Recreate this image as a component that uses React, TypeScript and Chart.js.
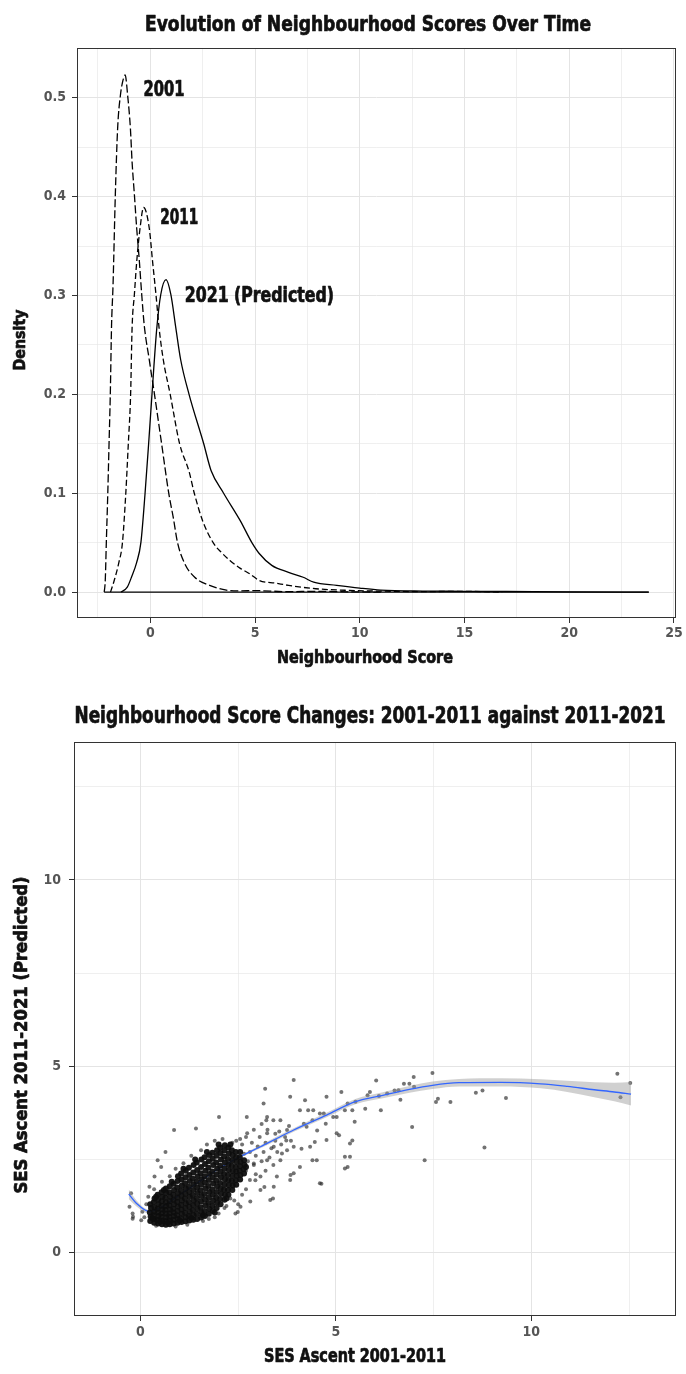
import React, { useEffect, useRef } from "react";
import { Chart, registerables } from "chart.js";

Chart.register(...registerables);

const FONT = "'Liberation Sans Narrow', 'DejaVu Sans Condensed', 'Arial Narrow', sans-serif";

// ---------------- Chart 1: density of neighbourhood scores ----------------
const score2001 = [-2.2, -2.15, -2.1, -2.03, -1.97, -1.91, -1.85, -1.78, -1.67, -1.56, -1.43, -1.3, -1.2, -1.08, -0.95, -0.87, -0.76, -0.65, -0.52, -0.41, -0.29, -0.05, 0.2, 0.54, 0.88, 1.1, 1.3, 1.64, 2.12, 2.83, 3.63, 4.3, 5.0, 6.5, 8.0, 9.5, 11.0];
const density2001 = [0, 0.012, 0.05, 0.1, 0.15, 0.2, 0.27, 0.31, 0.402, 0.469, 0.502, 0.518, 0.523, 0.502, 0.469, 0.435, 0.402, 0.368, 0.334, 0.301, 0.27, 0.235, 0.2, 0.15, 0.1, 0.075, 0.05, 0.029, 0.015, 0.0068, 0.002, 0.0012, 0.0015, 0.0005, 0.0008, 0.0003, 0];

const score2011 = [-1.9, -1.72, -1.5, -1.33, -1.17, -1.05, -0.94, -0.87, -0.76, -0.65, -0.49, -0.32, -0.05, 0.11, 0.27, 0.42, 0.62, 0.95, 1.4, 1.85, 2.1, 2.5, 3.0, 3.4, 3.8, 4.3, 4.75, 5.2, 6.0, 6.6, 7.9, 9.5, 11, 13, 15, 16.8];
const density2011 = [0, 0.012, 0.03, 0.05, 0.1, 0.15, 0.2, 0.267, 0.301, 0.334, 0.368, 0.389, 0.368, 0.334, 0.301, 0.267, 0.235, 0.2, 0.15, 0.122, 0.1, 0.072, 0.05, 0.04, 0.032, 0.024, 0.0185, 0.0118, 0.009, 0.0068, 0.0034, 0.0017, 0.001, 0.0005, 0.0008, 0];

const score2021 = [-1.4, -1.1, -0.9, -0.65, -0.45, -0.25, -0.08, 0.08, 0.31, 0.5, 0.75, 0.98, 1.22, 1.45, 1.85, 2.55, 2.9, 3.5, 4.3, 4.85, 5.2, 5.8, 6.6, 7.3, 7.8, 8.9, 10, 11, 13, 15, 17, 20, 23.8];
const density2021 = [0, 0.005, 0.015, 0.03, 0.05, 0.1, 0.15, 0.2, 0.267, 0.301, 0.316, 0.301, 0.267, 0.235, 0.2, 0.15, 0.123, 0.1, 0.072, 0.05, 0.039, 0.027, 0.02, 0.015, 0.01, 0.0068, 0.004, 0.002, 0.001, 0.0008, 0.0006, 0.0002, 0];

const baselineScore = [-2.2, 23.8];
const baselineDensity = [0, 0];

const curveLabels = ["2001", "2011", "2021 (Predicted)"];
const curveLabelScore = [-0.32, 0.48, 1.65];
const curveLabelDensity = [0.507, 0.378, 0.299];

const densityMajorX = [0, 5, 10, 15, 20, 25];
const densityMinorX = [-2.5, 2.5, 7.5, 12.5, 17.5, 22.5];
const densityMajorY = [0, 0.1, 0.2, 0.3, 0.4, 0.5];
const densityMinorY = [0.05, 0.15, 0.25, 0.35, 0.45];

// ---------------- Chart 2: score changes scatter ----------------
const cloudPoints: [number, number][] = [
  [0.25, 0.85], [0.26, 0.97], [0.24, 1.08], [0.27, 1.2], [0.25, 1.3],
  [0.35, 0.8], [0.36, 0.9], [0.34, 1.0], [0.35, 1.1], [0.36, 1.22], [0.34, 1.35], [0.36, 1.45],
  [0.45, 0.78], [0.44, 0.88], [0.46, 0.98], [0.45, 1.08], [0.44, 1.18], [0.46, 1.3], [0.45, 1.42], [0.44, 1.55],
  [0.55, 0.76], [0.56, 0.86], [0.54, 0.96], [0.55, 1.06], [0.56, 1.16], [0.54, 1.26], [0.55, 1.38], [0.56, 1.5], [0.54, 1.62],
  [0.65, 0.75], [0.64, 0.85], [0.66, 0.95], [0.65, 1.05], [0.64, 1.15], [0.66, 1.25], [0.65, 1.35], [0.64, 1.47], [0.66, 1.6], [0.65, 1.72],
  [0.75, 0.76], [0.76, 0.86], [0.74, 0.96], [0.75, 1.06], [0.76, 1.16], [0.74, 1.27], [0.75, 1.38], [0.76, 1.5], [0.74, 1.62], [0.75, 1.78],
  [0.85, 0.78], [0.84, 0.88], [0.86, 0.98], [0.85, 1.08], [0.84, 1.18], [0.86, 1.3], [0.85, 1.42], [0.84, 1.55], [0.86, 1.68], [0.85, 1.85],
  [0.95, 0.8], [0.96, 0.9], [0.94, 1.0], [0.95, 1.12], [0.96, 1.24], [0.94, 1.36], [0.95, 1.48], [0.96, 1.6], [0.94, 1.75], [0.95, 1.92], [0.96, 2.05],
  [1.05, 0.82], [1.04, 0.92], [1.06, 1.04], [1.05, 1.16], [1.04, 1.28], [1.06, 1.4], [1.05, 1.53], [1.04, 1.66], [1.06, 1.8], [1.05, 1.96], [1.04, 2.12],
  [1.15, 0.84], [1.16, 0.95], [1.14, 1.07], [1.15, 1.2], [1.16, 1.32], [1.14, 1.45], [1.15, 1.58], [1.16, 1.72], [1.14, 1.86], [1.15, 2.02], [1.16, 2.2],
  [1.25, 0.86], [1.24, 0.98], [1.26, 1.1], [1.25, 1.23], [1.24, 1.36], [1.26, 1.5], [1.25, 1.63], [1.24, 1.77], [1.26, 1.92], [1.25, 2.08], [1.24, 2.28],
  [1.35, 0.88], [1.36, 1.0], [1.34, 1.14], [1.35, 1.27], [1.36, 1.4], [1.34, 1.54], [1.35, 1.68], [1.36, 1.83], [1.34, 1.98], [1.35, 2.15], [1.36, 2.35],
  [1.45, 0.9], [1.44, 1.04], [1.46, 1.18], [1.45, 1.32], [1.44, 1.46], [1.46, 1.6], [1.45, 1.75], [1.44, 1.9], [1.46, 2.05], [1.45, 2.22], [1.44, 2.42],
  [1.55, 0.94], [1.56, 1.08], [1.54, 1.22], [1.55, 1.37], [1.56, 1.52], [1.54, 1.67], [1.55, 1.82], [1.56, 1.97], [1.54, 2.13], [1.55, 2.3], [1.56, 2.5],
  [1.65, 0.98], [1.64, 1.12], [1.66, 1.27], [1.65, 1.42], [1.64, 1.57], [1.66, 1.73], [1.65, 1.88], [1.64, 2.04], [1.66, 2.2], [1.65, 2.38], [1.64, 2.56],
  [1.75, 1.04], [1.76, 1.18], [1.74, 1.33], [1.75, 1.48], [1.76, 1.63], [1.74, 1.79], [1.75, 1.95], [1.76, 2.11], [1.74, 2.28], [1.75, 2.45], [1.76, 2.62],
  [1.85, 1.12], [1.84, 1.26], [1.86, 1.4], [1.85, 1.55], [1.84, 1.7], [1.86, 1.86], [1.85, 2.02], [1.84, 2.18], [1.86, 2.35], [1.85, 2.52], [1.84, 2.68],
  [1.95, 1.2], [1.96, 1.34], [1.94, 1.48], [1.95, 1.63], [1.96, 1.78], [1.94, 1.93], [1.95, 2.09], [1.96, 2.25], [1.94, 2.42], [1.95, 2.6], [1.96, 2.75],
  [2.05, 1.3], [2.04, 1.44], [2.06, 1.58], [2.05, 1.72], [2.04, 1.87], [2.06, 2.02], [2.05, 2.17], [2.04, 2.33], [2.06, 2.5], [2.05, 2.67], [2.04, 2.82],
  [2.15, 1.42], [2.16, 1.55], [2.14, 1.69], [2.15, 1.83], [2.16, 1.97], [2.14, 2.11], [2.15, 2.26], [2.16, 2.42], [2.14, 2.58], [2.15, 2.74], [2.16, 2.88],
  [2.25, 1.55], [2.24, 1.68], [2.26, 1.81], [2.25, 1.94], [2.24, 2.08], [2.26, 2.22], [2.25, 2.36], [2.24, 2.51], [2.26, 2.66], [2.25, 2.82],
  [2.35, 1.68], [2.36, 1.8], [2.34, 1.93], [2.35, 2.06], [2.36, 2.19], [2.34, 2.33], [2.35, 2.47], [2.36, 2.61], [2.34, 2.75],
  [2.45, 1.82], [2.44, 1.94], [2.46, 2.06], [2.45, 2.18], [2.44, 2.3], [2.46, 2.43], [2.45, 2.56], [2.44, 2.7],
  [2.55, 1.96], [2.56, 2.08], [2.54, 2.2], [2.55, 2.32], [2.56, 2.44], [2.54, 2.56],
  [2.65, 2.12], [2.64, 2.24], [2.66, 2.36], [2.65, 2.48],
  [0.3, 0.92], [0.5, 0.83], [0.7, 0.8], [1.0, 0.86], [1.3, 0.93], [1.6, 1.0], [0.4, 1.5], [0.6, 1.68], [0.8, 1.9],
  [1.1, 2.25], [1.4, 2.5], [1.7, 2.7], [2.0, 2.9], [2.3, 2.9], [2.55, 2.7], [2.7, 2.3], [1.9, 1.08], [2.2, 1.45],
];

const spreadPoints: [number, number][] = [
  [2.7, 2.2], [2.75, 2.45], [2.8, 2.7], [2.85, 2.95], [2.7, 3.1], [2.9, 2.35], [2.95, 2.6], [3.0, 2.85], [3.05, 3.1],
  [3.1, 2.45], [3.15, 2.7], [3.2, 2.95], [3.25, 3.3], [3.3, 2.55], [3.35, 2.8], [3.45, 3.0], [3.5, 2.7], [3.55, 3.25],
  [3.6, 2.9], [3.7, 3.1], [3.75, 2.75], [3.8, 3.4], [3.85, 3.0], [2.65, 2.65], [2.6, 2.9], [2.55, 3.05], [2.45, 3.0],
  [2.35, 2.95], [2.9, 3.3], [3.1, 3.45], [3.4, 3.55], [2.8, 1.95], [2.95, 2.1], [3.2, 2.2], [3.4, 2.35], [2.7, 1.7],
  [2.6, 1.55], [2.4, 1.4], [2.5, 1.3], [2.2, 1.25], [2.0, 1.05], [1.9, 0.95], [2.3, 1.45], [2.15, 1.2],
  [0.1, 0.95], [0.05, 1.1], [0.15, 1.3], [0.2, 1.5], [0.35, 1.7], [0.55, 1.9], [0.75, 2.05], [0.9, 2.25], [1.1, 2.4],
  [1.3, 2.6], [1.55, 2.75], [1.7, 2.9], [1.9, 3.0], [2.1, 3.05], [1.2, 0.75], [1.6, 0.85], [1.75, 0.9], [0.4, 0.72], [0.9, 0.7],
];

const outlierPoints: [number, number][] = [
  [12.2, 4.8], [12.53, 4.55], [12.28, 4.17], [7.47, 4.82], [6.99, 4.71], [6.88, 4.53], [6.03, 4.62], [6.6, 4.36],
  [6.31, 4.27], [5.87, 4.31], [7.61, 4.13], [7.56, 4.04], [7.93, 4.04], [8.58, 4.29], [8.75, 4.35], [9.35, 4.15],
  [6.95, 3.37], [8.8, 2.82], [7.27, 2.48], [6.74, 4.53], [6.65, 4.1], [3.92, 4.63], [3.19, 4.4], [3.83, 4.18],
  [4.21, 4.09], [4.76, 4.18], [5.14, 4.31], [3.15, 4.0], [2.01, 3.64], [1.42, 3.33], [0.86, 3.29], [0.44, 2.48],
  [0.53, 2.3], [0.36, 2.04], [0.23, 1.77], [-0.24, 1.59], [-0.28, 1.23], [-0.19, 0.96], [-0.2, 1.05], [2.73, 3.2],
  [3.24, 3.64], [3.58, 3.55], [3.24, 3.2], [3.75, 3.29], [4.08, 3.82], [4.25, 3.38], [4.42, 3.82], [4.59, 3.73],
  [4.93, 3.64], [5.23, 3.82], [5.48, 3.51], [5.36, 2.93], [5.23, 2.57], [5.23, 2.26], [4.59, 1.86], [4.51, 2.48],
  [4.08, 2.3], [3.92, 2.13], [3.83, 1.95], [3.49, 2.04], [3.41, 1.77], [3.32, 1.41], [3.07, 1.68], [2.81, 1.37],
  [2.56, 1.23], [2.43, 1.05], [3.07, 2.04], [2.9, 2.39], [3.24, 2.48], [3.58, 2.48], [3.41, 2.84], [3.92, 2.84],
  [4.34, 2.84], [4.76, 3.02], [5.02, 3.2], [5.3, 4.0], [5.42, 3.82], [5.75, 3.86], [5.81, 4.22], [6.15, 3.82],
  [5.02, 3.64], [4.69, 3.73], [4.4, 3.55], [4.18, 3.46], [4.74, 3.46], [4.29, 3.82], [4.52, 3.28], [5.08, 3.15],
  [5.42, 3.01], [4.46, 2.97], [4.12, 2.79], [5.36, 2.57], [5.3, 2.3], [4.63, 1.85], [4.4, 2.48], [3.84, 2.08],
  [3.39, 1.45], [3.17, 1.76], [2.94, 1.94], [2.49, 1.09], [3.62, 2.66], [3.22, 3.55], [3.45, 3.19], [3.73, 3.01],
  [2.72, 3.64], [0.64, 2.7], [0.02, 0.87], [-0.2, 0.91], [5.5, 4.05], [6.1, 4.2], [6.5, 4.35], [7.0, 4.45],
];

const smoothX = [-0.3, -0.1, 0.23, 0.5, 1.0, 1.5, 2.0, 2.5, 3.07, 3.5, 3.92, 4.76, 5.5, 6.2, 6.88, 7.47, 8.15, 9.22, 10.24, 10.92, 11.61, 12.12, 12.55];
const smoothY = [1.57, 1.32, 1.1, 1.2, 1.55, 1.9, 2.25, 2.55, 2.84, 3.07, 3.29, 3.69, 4.05, 4.22, 4.38, 4.49, 4.56, 4.57, 4.53, 4.46, 4.37, 4.31, 4.25];
const smoothLow = [1.44, 1.24, 1.05, 1.17, 1.53, 1.88, 2.23, 2.52, 2.8, 3.02, 3.24, 3.63, 3.98, 4.14, 4.29, 4.39, 4.46, 4.46, 4.41, 4.31, 4.17, 4.06, 3.95];
const smoothHigh = [1.7, 1.4, 1.15, 1.23, 1.57, 1.92, 2.27, 2.58, 2.88, 3.12, 3.34, 3.75, 4.12, 4.3, 4.47, 4.59, 4.66, 4.68, 4.65, 4.61, 4.57, 4.56, 4.58];

const changeMajor = [0, 5, 10];
const changeMinor = [2.5, 7.5, 12.5];

// ---------------- helpers ----------------
const toXY = (xs: number[], ys: number[]) => xs.map((x, i) => ({ x, y: ys[i] }));
const pairsXY = (p: [number, number][]) => p.map(([x, y]) => ({ x, y }));

function axis(
  min: number,
  max: number,
  major: number[],
  minor: number[],
  fmt: (v: number) => string,
  isX: boolean,
  size: number,
  padding: number
) {
  const all = [...major, ...minor].filter((v) => v >= min && v <= max).sort((a, b) => a - b);
  const isMajor = (v: any) => typeof v === "number" && major.some((m) => Math.abs(m - v) < 1e-9);
  return {
    type: "linear",
    min,
    max,
    afterBuildTicks: (scale: any) => {
      scale.ticks = all.map((v) => ({ value: v }));
    },
    afterFit: (scale: any) => {
      if (isX) scale.height = size;
      else scale.width = size;
    },
    ticks: {
      autoSkip: false,
      maxRotation: 0,
      minRotation: 0,
      padding,
      color: "#555555",
      font: { family: FONT, size: 14, weight: "bold" },
      callback: (v: any) => (isMajor(v) ? fmt(v) : ""),
    },
    grid: {
      color: "#e4e4e4",
      lineWidth: (ctx: any) => (isMajor(ctx.tick && ctx.tick.value) ? 1 : 0.6),
      drawTicks: true,
      tickLength: 5,
      tickWidth: 1,
      tickColor: (ctx: any) => (isMajor(ctx.tick && ctx.tick.value) ? "#333333" : "rgba(0,0,0,0)"),
    },
    border: { display: false },
  };
}

// draws heavy text squeezed/stretched along its direction to a target length
function fitText(ctx: CanvasRenderingContext2D, text: string, x: number, y: number, width: number, align: "left" | "center") {
  const w = ctx.measureText(text).width;
  const s = w > 0 ? width / w : 1;
  ctx.save();
  ctx.translate(x, y);
  ctx.scale(s, 1);
  ctx.textAlign = align;
  ctx.lineWidth = 0.7;
  ctx.lineJoin = "round";
  ctx.strokeStyle = ctx.fillStyle as string;
  ctx.fillText(text, 0, 0);
  ctx.strokeText(text, 0, 0);
  ctx.restore();
}

const overlayPlugin = {
  id: "overlay",
  afterDraw(chart: any, _args: any, opts: any) {
    const ctx = chart.ctx;
    const a = chart.chartArea;
    ctx.save();
    ctx.strokeStyle = "#333333";
    ctx.lineWidth = 1;
    ctx.strokeRect(Math.round(a.left) + 0.5, Math.round(a.top) + 0.5, Math.round(a.right - a.left) - 1, Math.round(a.bottom - a.top) - 1);

    ctx.fillStyle = "#111111";
    ctx.textBaseline = "alphabetic";
    ctx.font = `bold ${opts.titleSize}px ${FONT}`;
    fitText(ctx, opts.title, opts.titleX, opts.titleY, opts.titleWidth, "center");

    ctx.font = `bold ${opts.axisSize}px ${FONT}`;
    fitText(ctx, opts.xTitle, opts.xTitleX, opts.xTitleY, opts.xTitleWidth, "center");

    ctx.save();
    ctx.font = `bold ${opts.yAxisSize}px ${FONT}`;
    ctx.translate(opts.yTitleX, opts.yTitleY);
    ctx.rotate(-Math.PI / 2);
    fitText(ctx, opts.yTitle, 0, 0, opts.yTitleWidth, "center");
    ctx.restore();

    if (opts.labels) {
      const xs = chart.scales.x;
      const ys = chart.scales.y;
      ctx.textBaseline = "middle";
      ctx.font = `bold ${opts.labelSize}px ${FONT}`;
      opts.labels.forEach((t: string, i: number) => {
        fitText(ctx, t, xs.getPixelForValue(opts.labelX[i]), ys.getPixelForValue(opts.labelY[i]), opts.labelWidths[i], "left");
      });
    }
    ctx.restore();
  },
};

export default function App() {
  const topRef = useRef<HTMLCanvasElement>(null);
  const botRef = useRef<HTMLCanvasElement>(null);

  useEffect(() => {
    document.body.style.margin = "0";
    const common = {
      animation: false,
      responsive: false,
      devicePixelRatio: 1,
      events: [],
      elements: { point: { radius: 0 }, line: { tension: 0 } },
    };

    const top = new Chart(topRef.current as HTMLCanvasElement, {
      type: "line",
      data: {
        datasets: [
          { data: toXY(baselineScore, baselineDensity), borderColor: "#000", borderWidth: 1.3, pointRadius: 0 },
          { data: toXY(score2001, density2001), borderColor: "#000", borderWidth: 1.3, borderDash: [8, 3], pointRadius: 0, cubicInterpolationMode: "monotone" },
          { data: toXY(score2011, density2011), borderColor: "#000", borderWidth: 1.3, borderDash: [6, 3], pointRadius: 0, cubicInterpolationMode: "monotone" },
          { data: toXY(score2021, density2021), borderColor: "#000", borderWidth: 1.3, pointRadius: 0, cubicInterpolationMode: "monotone" },
        ],
      },
      options: {
        ...common,
        layout: { padding: { top: 48, right: 10, left: 0, bottom: 0 } },
        plugins: {
          legend: { display: false },
          tooltip: { enabled: false },
          overlay: {
            title: "Evolution of Neighbourhood Scores Over Time",
            titleSize: 22,
            titleWidth: 446,
            titleX: 368,
            titleY: 31,
            axisSize: 18,
            xTitle: "Neighbourhood Score",
            xTitleWidth: 176,
            xTitleX: 365,
            xTitleY: 663,
            yAxisSize: 16,
            yTitle: "Density",
            yTitleWidth: 61,
            yTitleX: 25,
            yTitleY: 340,
            labels: curveLabels,
            labelX: curveLabelScore,
            labelY: curveLabelDensity,
            labelWidths: [41, 38, 149],
            labelSize: 21,
          },
        },
        scales: {
          x: axis(-3.5, 25.1, densityMajorX, densityMinorX, (v) => String(v), true, 68, 2),
          y: axis(-0.0262, 0.5503, densityMajorY, densityMinorY, (v) => v.toFixed(1), false, 77, 6),
        },
      } as any,
      plugins: [overlayPlugin],
    } as any);

    const bot = new Chart(botRef.current as HTMLCanvasElement, {
      type: "line",
      data: {
        datasets: [
          { data: pairsXY(cloudPoints), showLine: false, pointRadius: 3, borderWidth: 0, backgroundColor: "rgba(14,14,14,0.95)", order: 0 },
          { data: toXY(smoothX, smoothY), borderColor: "#3366FF", borderWidth: 1.3, pointRadius: 0, order: 1, cubicInterpolationMode: "monotone" },
          { data: toXY(smoothX, smoothHigh), borderWidth: 0, borderColor: "rgba(0,0,0,0)", pointRadius: 0, fill: "+1", backgroundColor: "rgba(150,150,150,0.45)", order: 2, cubicInterpolationMode: "monotone" },
          { data: toXY(smoothX, smoothLow), borderWidth: 0, borderColor: "rgba(0,0,0,0)", pointRadius: 0, order: 3, cubicInterpolationMode: "monotone" },
          { data: pairsXY(outlierPoints), showLine: false, pointRadius: 2, borderWidth: 0, backgroundColor: "rgba(40,40,40,0.65)", order: 4 },
          { data: pairsXY(spreadPoints), showLine: false, pointRadius: 2, borderWidth: 0, backgroundColor: "rgba(40,40,40,0.65)", order: 5 },
        ],
      },
      options: {
        ...common,
        layout: { padding: { top: 56, right: 10, left: 0, bottom: 0 } },
        plugins: {
          legend: { display: false },
          tooltip: { enabled: false },
          overlay: {
            title: "Neighbourhood Score Changes: 2001-2011 against 2011-2021",
            titleSize: 23,
            titleWidth: 591,
            titleX: 370,
            titleY: 37,
            axisSize: 19,
            xTitle: "SES Ascent 2001-2011",
            xTitleWidth: 182,
            xTitleX: 355,
            xTitleY: 676,
            yAxisSize: 17,
            yTitle: "SES Ascent 2011-2021 (Predicted)",
            yTitleWidth: 317,
            yTitleX: 27,
            yTitleY: 349,
          },
        },
        scales: {
          x: axis(-1.7, 13.7, changeMajor, changeMinor, (v) => String(v), true, 58, 3),
          y: axis(-1.7, 13.7, changeMajor, changeMinor, (v) => String(v), false, 74, 8),
        },
      } as any,
      plugins: [overlayPlugin],
    } as any);

    return () => {
      top.destroy();
      bot.destroy();
    };
  }, []);

  return (
    <div style={{ position: "absolute", left: 0, top: 0, width: 686, height: 1374, background: "#ffffff" }}>
      <canvas ref={topRef} width={686} height={686} style={{ position: "absolute", left: 0, top: 0, width: 686, height: 686 }} />
      <canvas ref={botRef} width={686} height={688} style={{ position: "absolute", left: 0, top: 686, width: 686, height: 688 }} />
    </div>
  );
}
